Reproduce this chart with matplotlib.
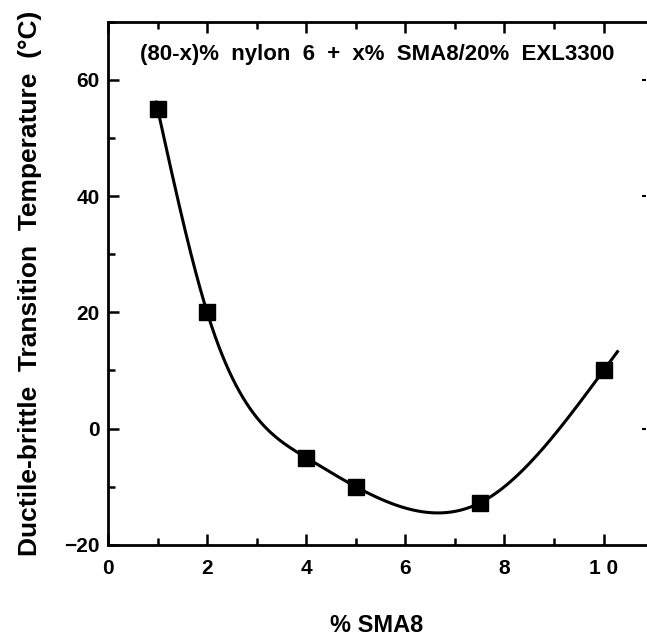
import numpy as np
import matplotlib.pyplot as plt
from matplotlib.ticker import MultipleLocator

# data
sma8 = [1.0, 2.0, 4.0, 5.0, 7.5, 10.0]
dbtt = [55.0, 20.0, -5.0, -10.0, -12.8, 10.0]


def natural_spline(x, y, xs):
    # plain natural cubic spline, linear beyond the end points
    x = np.asarray(x, float)
    y = np.asarray(y, float)
    n = len(x)
    h = np.diff(x)
    A = np.zeros((n, n))
    r = np.zeros(n)
    A[0, 0] = A[-1, -1] = 1
    for i in range(1, n - 1):
        A[i, i - 1] = h[i - 1]
        A[i, i] = 2 * (h[i - 1] + h[i])
        A[i, i + 1] = h[i]
        r[i] = 3 * ((y[i + 1] - y[i]) / h[i] - (y[i] - y[i - 1]) / h[i - 1])
    c = np.linalg.solve(A, r)
    b = (y[1:] - y[:-1]) / h - h * (2 * c[:-1] + c[1:]) / 3
    d = (c[1:] - c[:-1]) / (3 * h)
    out = []
    for xv in xs:
        i = int(np.clip(np.searchsorted(x, xv) - 1, 0, n - 2))
        t = xv - x[i]
        if xv < x[0]:
            out.append(y[0] + b[0] * t)
        elif xv > x[-1]:
            t_end = x[-1] - x[i]
            slope = b[i] + 2 * c[i] * t_end + 3 * d[i] * t_end ** 2
            out.append(y[-1] + slope * (xv - x[-1]))
        else:
            out.append(y[i] + b[i] * t + c[i] * t ** 2 + d[i] * t ** 3)
    return np.array(out)


xfit = np.linspace(0.97, 10.28, 400)
yfit = natural_spline(sma8, dbtt, xfit)

plt.rcParams['font.family'] = ['Liberation Sans', 'DejaVu Sans']
plt.rcParams['font.weight'] = 'bold'

fig = plt.figure(figsize=(6.47, 6.38), dpi=100)
ax = fig.add_axes([0.167, 0.146, 0.831, 0.820])

ax.plot(xfit, yfit, color='black', lw=2.2)
ax.plot(sma8, dbtt, 's', color='black', ms=11.5)

ax.set_xlim(0, 10.85)
ax.set_ylim(-20, 70)
ax.xaxis.set_minor_locator(MultipleLocator(1))
ax.yaxis.set_minor_locator(MultipleLocator(10))
ax.set_yticks([-20, 0, 20, 40, 60])
ax.set_xticks([0, 2, 4, 6, 8, 10])
ax.set_xticklabels(['0', '2', '4', '6', '8', '1 0'])

ax.tick_params(which='both', direction='in', top=True, right=False, width=1.8,
               labelsize=15)
ax.tick_params(axis='x', pad=10)
ax.tick_params(axis='y', pad=6)
ax.tick_params(which='major', length=8)
ax.tick_params(which='minor', length=5)
for s in ['left', 'bottom', 'top']:
    ax.spines[s].set_linewidth(2)
ax.spines['right'].set_visible(False)
for lab in ax.get_xticklabels() + ax.get_yticklabels():
    lab.set_fontweight('bold')

# faint marks on the right edge
sec = ax.secondary_yaxis('right')
sec.set_yticks([0, 40, 60])
sec.tick_params(direction='in', length=3, width=1.5, labelright=False)
sec.spines['right'].set_visible(False)

ax.text(0.5, 0.937, '(80-x)%  nylon  6  +  x%  SMA8/20%  EXL3300',
        transform=ax.transAxes, ha='center', va='center', fontsize=16,
        fontweight='bold')
ax.set_xlabel('% SMA8', fontsize=17, fontweight='bold', labelpad=26)
ax.set_ylabel('Ductile-brittle  Transition  Temperature  (°C)', fontsize=19,
              fontweight='bold', labelpad=16)

plt.savefig('out.png', dpi=100)
